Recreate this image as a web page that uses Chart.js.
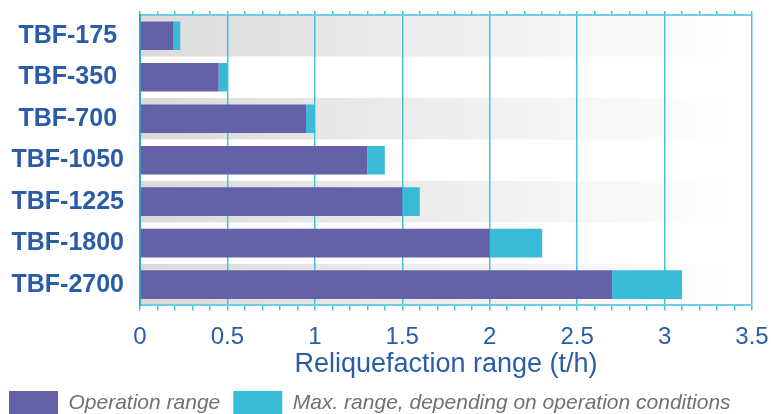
<!DOCTYPE html>
<html lang="en">
<head>
<meta charset="UTF-8">
<title>Reliquefaction range</title>
<script src="https://cdn.jsdelivr.net/npm/chart.js"></script>
<style>
  html, body { margin: 0; padding: 0; background: #fff; }
  #wrap { width: 771px; height: 414px; }
</style>
</head>
<body>
<div id="wrap"><canvas id="myChart"></canvas></div>
<script>
const models = ['TBF-175', 'TBF-350', 'TBF-700', 'TBF-1050', 'TBF-1225', 'TBF-1800', 'TBF-2700'];
const operationRange = [0.19, 0.45, 0.95, 1.3, 1.5, 2.0, 2.7];
const maxRange = [0.23, 0.5, 1.0, 1.4, 1.6, 2.3, 3.1];
const shadedRows = [0, 2, 4, 6];
const xMin = 0, xMax = 3.5, minorStep = 0.1;

const blue = '#2a5ca8';
const cyanLine = 'rgba(64,190,218,0.95)';
const purple = '#6461a8';
const cyan = '#37bbd9';

const isMajor = v => Math.abs(v * 2 - Math.round(v * 2)) < 1e-6;

// gray stripes behind every other row, fading out to the right
const stripes = {
  id: 'stripes',
  beforeDraw(chart) {
    const {ctx, chartArea: a, scales: {y}} = chart;
    const slot = (a.bottom - a.top) / models.length;
    const g = ctx.createLinearGradient(a.left, 0, a.right, 0);
    g.addColorStop(0, '#dadada');
    g.addColorStop(0.5, '#eeeeee');
    g.addColorStop(0.96, '#ffffff');
    ctx.save();
    ctx.fillStyle = g;
    shadedRows.forEach(i => {
      const c = y.getPixelForValue(i);
      ctx.fillRect(a.left, c - slot / 2, a.right - a.left, slot);
    });
    ctx.restore();
  }
};

const noSidePad = s => { s.paddingLeft = 0; s.paddingRight = 0; };

const data = {
  labels: models,
  datasets: [{
    label: 'Operation range',
    data: operationRange,
    backgroundColor: purple
  }, {
    label: 'Max. range, depending on operation conditions',
    data: operationRange.map((v, i) => [v, maxRange[i]]),
    backgroundColor: cyan
  }]
};

const config = {
  type: 'bar',
  data: data,
  plugins: [stripes],
  options: {
    indexAxis: 'y',
    responsive: true,
    maintainAspectRatio: false,
    animation: false,
    grouped: false,
    barPercentage: 0.69,
    categoryPercentage: 1,
    layout: { padding: { top: 11, right: 19, left: -4, bottom: -11 } },
    plugins: {
      tooltip: { enabled: false },
      legend: {
        position: 'bottom',
        align: 'start',
        labels: {
          boxWidth: 49,
          boxHeight: 24,
          padding: 13,
          color: '#707070',
          font: { family: 'Liberation Sans', size: 21, style: 'italic' }
        }
      }
    },
    scales: {
      x: {
        min: xMin, max: xMax, z: 1,
        afterFit: noSidePad,
        ticks: {
          stepSize: minorStep, maxTicksLimit: 36, autoSkip: false, maxRotation: 0,
          padding: 15, color: blue,
          font: { family: 'Liberation Sans', size: 24, lineHeight: 1 },
          callback: v => isMajor(v) ? String(v) : ''
        },
        grid: {
          color: c => isMajor(c.tick.value) ? cyanLine : 'rgba(0,0,0,0)',
          tickColor: cyanLine, tickLength: 5, lineWidth: 1.5
        },
        border: { color: 'rgba(100,200,225,0.9)', width: 2 },
        title: {
          display: true, text: 'Reliquefaction range (t/h)', color: blue,
          font: { family: 'Liberation Sans', size: 27, lineHeight: 0.8 }, padding: { top: -11, bottom: 3 }
        }
      },
      x2: {
        axis: 'x', position: 'top', min: xMin, max: xMax, z: 1,
        afterFit: noSidePad,
        ticks: { display: false, stepSize: minorStep, maxTicksLimit: 36, autoSkip: false },
        grid: { drawOnChartArea: false, tickColor: cyanLine, tickLength: 4, lineWidth: 1.5 },
        border: { color: 'rgba(100,200,225,0.9)', width: 2 }
      },
      y: {
        grid: { display: false, drawTicks: false },
        border: { color: '#3aa6c6', width: 2 },
        afterFit: s => { s.width = 144; s.paddingTop = 0; s.paddingBottom = 0; },
        ticks: {
          crossAlign: 'center', padding: 16, color: blue,
          font: { family: 'Liberation Sans', size: 25, weight: 'bold' }
        }
      }
    }
  }
};

new Chart(document.querySelector('#myChart'), config);
</script>
</body>
</html>
